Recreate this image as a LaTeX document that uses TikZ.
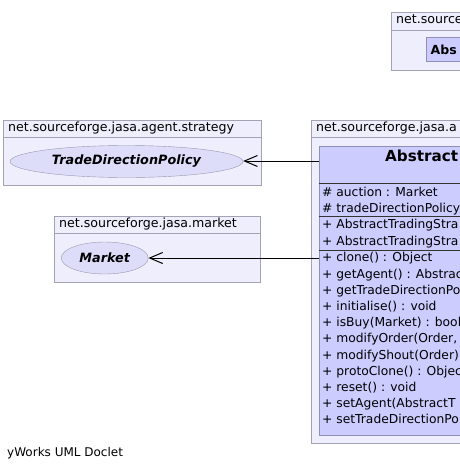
\documentclass[tikz,border=0pt]{standalone}
\usepackage{fontspec}
\setmainfont{DejaVu Sans}
\usetikzlibrary{positioning}
\usetikzlibrary{arrows.meta}
\usetikzlibrary{shapes.geometric}

\definecolor{pkgfill}{HTML}{EEEEFC}
\definecolor{pkgline}{HTML}{A3A3B5}
\definecolor{clsfill}{HTML}{CCCCFF}
\definecolor{clsline}{HTML}{8E8EB8}
\definecolor{ifacefill}{HTML}{DDDDFA}
\definecolor{ifaceline}{HTML}{9898B0}

\begin{document}
\begin{tikzpicture}[x=1pt,y=-1pt]
      \tikzset{pkg/.style={draw=pkgline, fill=pkgfill, anchor=north west, inner sep=0pt}};
      \tikzset{pkgtitle/.style={draw=pkgline, fill=pkgfill, anchor=north west, align=left,
        minimum height=17.5pt, inner xsep=5.5pt, inner ysep=0pt, text height=9pt, text depth=3pt,
        font=\fontsize{12.6}{15}\selectfont}};
      \tikzset{iface/.style={ellipse, draw=ifaceline, fill=ifacefill, inner sep=0pt,
        minimum height=32pt, font=\fontsize{12.8}{15}\selectfont\bfseries\itshape}};
      \tikzset{cls/.style={draw=clsline, fill=clsfill, anchor=north west, inner sep=0pt}};
      \tikzset{clsname/.style={anchor=base west, inner sep=0pt, font=\bfseries}};
      \tikzset{member/.style={anchor=base west, inner sep=0pt, font=\fontsize{12.3}{15}\selectfont}};
      \tikzset{sep/.style={draw=black!80, line width=1pt}};
      \tikzset{assoc/.style={-{Straight Barb[length=13pt,width=11pt]}, line width=1pt}};

      \useasboundingbox (0,0) rectangle (460,472);
      \clip (0,0) rectangle (460,472);

      % package oben rechts
      \node[pkg, minimum width=100pt, minimum height=57.5pt](topP) at (390.5,12){};
      \node[pkgtitle, text width=89pt](topT) at (topP.north west){net.source};
      \node[cls, minimum width=60pt, minimum height=24pt](absC) at (426,37){};
      \node[clsname, font=\fontsize{12.5}{15}\selectfont\bfseries](absN) at (430.5,54){Abs};

      % strategy package
      \node[pkg, minimum width=258.5pt, minimum height=65.5pt](strategyP) at (2.5,119.5){};
      \node[pkgtitle, text width=247.5pt](strategyT) at (strategyP.north west){net.sourceforge.jasa.agent.strategy};
      \node[iface, minimum width=233pt](tradeE) at (126.5,161.5){TradeDirectionPolicy};

      % market package
      \node[pkg, minimum width=206pt, minimum height=66.5pt](marketP) at (53.5,215.5){};
      \node[pkgtitle, text width=195pt](marketT) at (marketP.north west){net.sourceforge.jasa.market};
      \node[iface, minimum width=87pt](marketE) at (104.7,258){Market};

      % agent package mit Klasse
      \node[pkg, minimum width=200pt, minimum height=323.5pt](agentP) at (310.5,119.5){};
      \node[pkgtitle, text width=189pt](agentT) at (agentP.north west){net.sourceforge.jasa.a};
      \node[cls, minimum width=200pt, minimum height=289.5pt](agentC) at (318.5,145.5){};
      \node[clsname, font=\fontsize{15.2}{18}\selectfont\bfseries](agentN) at (385,161){Abstract};

      \draw[sep] (agentC.west |- 0,183.3) -- (agentC.east |- 0,183.3);
      \draw[sep] (agentC.west |- 0,216) -- (agentC.east |- 0,216);
      \draw[sep] (agentC.west |- 0,250) -- (agentC.east |- 0,250);

      % Attribute, Konstruktoren, Methoden
      \foreach \m [count=\i from 0] in {{\# auction : Market},{\# tradeDirectionPolicy}}
        \node[member](attr\i) at (322,196+16*\i){\m};
      \foreach \m [count=\i from 0] in {{+ AbstractTradingStra},{+ AbstractTradingStra}}
        \node[member](ctor\i) at (322,228.8+16.2*\i){\m};
      \foreach \m [count=\i from 0] in {{+ clone() : Object},{+ getAgent() : Abstrac},
          {+ getTradeDirectionPo},{+ initialise() : void},{+ isBuy(Market) : bool},
          {+ modifyOrder(Order,},{+ modifyShout(Order)},{+ protoClone() : Objec},
          {+ reset() : void},{+ setAgent(AbstractT},{+ setTradeDirectionPo}}
        \node[member](meth\i) at (322,261.8+16.2*\i){\m};

      % Assoziationen
      \draw[assoc] (agentC.west |- 0,161) -- (tradeE.east |- 0,161);
      \draw[assoc] (agentC.west |- marketE.east) -- (marketE.east);

      \node[member, font=\fontsize{12}{15}\selectfont](doclet) at (7,456){yWorks UML Doclet};
\end{tikzpicture}
\end{document}
